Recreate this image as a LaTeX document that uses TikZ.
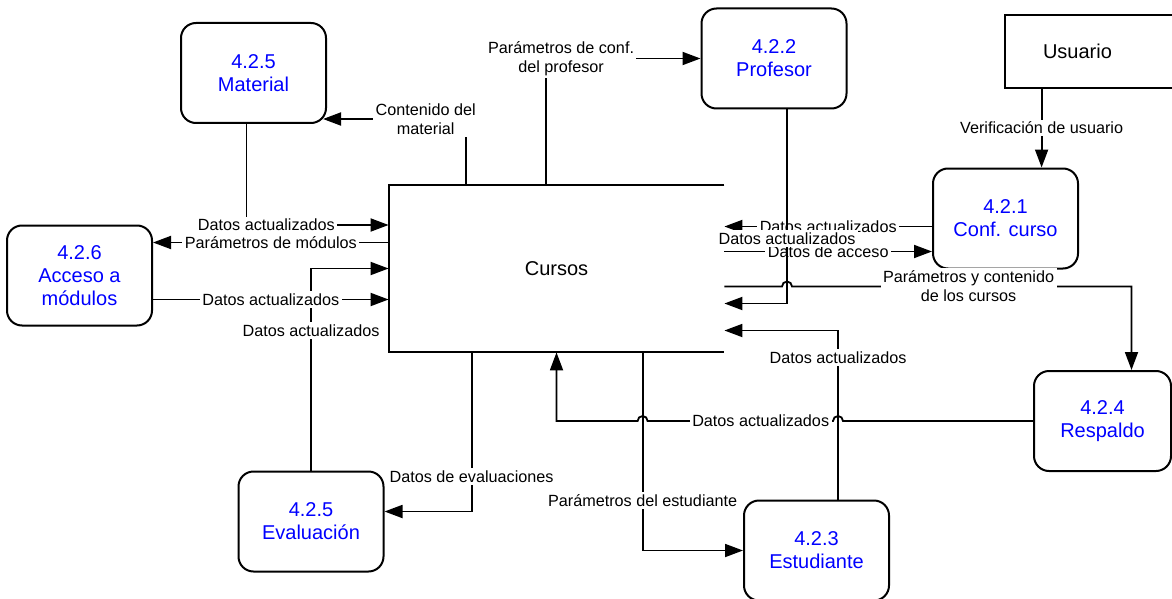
\documentclass[tikz,border=0pt]{standalone}
\usepackage{fontspec}
\setmainfont{Liberation Sans}
\usetikzlibrary{arrows.meta,calc,positioning}

\begin{document}
\begin{tikzpicture}[
  x=0.5pt, y=-0.5pt,
  every node/.style={font=\fontsize{8.1}{9.6}\selectfont},
  proc/.style={draw, line width=1pt, rounded corners=7.5pt, minimum width=72.5pt, minimum height=50pt, align=center, text=blue, font=\fontsize{10}{11.5}\selectfont},
  ent/.style={minimum width=72.5pt, minimum height=36.5pt, font=\fontsize{10}{11.5}\selectfont},
  lbl/.style={fill=white, inner sep=1.2pt, align=center},
  arr/.style={-{Triangle[length=9pt,width=6.5pt]}, line width=0.9pt},
  edge/.style={line width=1pt}
]
\path[use as bounding box] (0,0) coordinate (frameNW) rectangle (1172,599) coordinate (frameSE);

% data store and processes
\node[minimum width=167.5pt, minimum height=83.5pt, font=\fontsize{10}{11.5}\selectfont] (cursos) at (556.5,268.5) {Cursos};
\draw[edge] (cursos.north east) -- (cursos.north west) -- (cursos.south west) -- (cursos.south east);

\node[proc] (material) at (253.5,73) {4.2.5\\Material};
\node[proc] (profesor) at (774,58.5) {4.2.2\\Profesor};
\node[proc] (conf) at (1005.5,218.5) {4.2.1\\Conf. curso};
\node[proc] (acceso) at (79.5,275.5) {4.2.6\\Acceso a\\módulos};
\node[proc, minimum width=68.5pt] (respaldo) at (1102.5,421) {4.2.4\\Respaldo};
\node[proc] (evaluacion) at (311,521.5) {4.2.5\\Evaluación};
\node[proc] (estudiante) at (816.5,550.5) {4.2.3\\Estudiante};

\node[ent] (usuario) at (1077.5,51.5) {Usuario};
\draw[edge] (usuario.north west -| frameSE) -- (usuario.north west) -- (usuario.south west) -- (usuario.south west -| frameSE);

% ports on the Cursos box
\coordinate (c-w1) at ($(cursos.west)+(0,-43.5)$);
\coordinate (c-w2) at ($(cursos.west)+(0,-26)$);
\coordinate (c-w4) at ($(cursos.west)+(0,31)$);
\coordinate (c-n1) at ($(cursos.north west)+(77,0)$);
\coordinate (c-n2) at ($(cursos.north west)+(157,0)$);
\coordinate (c-e1) at ($(cursos.east)+(0,-42)$);
\coordinate (c-e2) at ($(cursos.east)+(0,-17)$);
\coordinate (c-e3) at ($(cursos.east)+(0,18)$);
\coordinate (c-e4) at ($(cursos.east)+(0,35)$);
\coordinate (c-e5) at ($(cursos.east)+(0,62)$);
\coordinate (c-s1) at ($(cursos.south west)+(83,0)$);
\coordinate (c-s2) at ($(cursos.south west)+(254,0)$);

\coordinate (m-in) at ($(material.south east)+(-4,-5)$);
\coordinate (p-out) at ($(profesor.south)+(13,0)$);
\coordinate (r-in) at ($(respaldo.north)+(29,0)$);
\coordinate (u-out) at ($(usuario.south west)+(37,0)$);
\coordinate (ev-in) at ($(evaluacion.east)+(0,-10)$);
\coordinate (st-out) at ($(estudiante.north)+(21.5,0)$);

% left side
\draw[arr] ($(material.south)+(-7,0)$) |- node[lbl, pos=0.57] {Datos actualizados} (c-w1);
\draw[arr] (c-w2) -- node[lbl] {Parámetros de módulos} (c-w2 -| acceso.east);
\draw[arr] (evaluacion.north) |- node[lbl, pos=0.346] {Datos actualizados} (cursos.west);
\draw[arr] (c-w4 -| acceso.east) -- node[lbl, pos=0.5] {Datos actualizados} (c-w4);

% top side
\draw[arr] (c-n1) |- node[lbl, pos=0.64] {Contenido del\\material} (m-in);
\draw[arr] (c-n2) |- node[lbl, pos=0.55] {Parámetros de conf.\\del profesor} (profesor.west);

% right side
\draw[arr] (u-out) -- node[lbl] {Verificación de usuario} (u-out |- conf.north);
\draw[arr] (c-e1 -| conf.west) -- node[lbl] {Datos actualizados} (c-e1);
\draw[arr] (c-e2) -- node[lbl] {Datos de acceso} (c-e2 -| conf.west);
\draw[arr] (p-out) |- node[lbl, pos=0.332] {Datos actualizados} (c-e4);
\draw[arr] (c-e3) -- ($(c-e3 -| p-out)+(-5,0)$) arc[start angle=180, end angle=360, radius=5]
  -- node[lbl, pos=0.52] {Parámetros y contenido\\de los cursos} (c-e3 -| r-in) -- (r-in);

% bottom side
\draw[arr] (c-s1) |- node[lbl, pos=0.39] {Datos de evaluaciones} (ev-in);
\draw[arr] (c-s2) |- node[lbl, pos=0.374] {Parámetros del estudiante} (estudiante.west);
\draw[arr] (st-out) |- node[lbl, pos=0.42] {Datos actualizados} (c-e5);
\draw[arr] (respaldo.west) -- ($(respaldo.west -| st-out)+(5,0)$) arc[start angle=0, end angle=-180, radius=5]
  -- node[lbl, pos=0.39] {Datos actualizados} ($(respaldo.west -| c-s2)+(5,0)$) arc[start angle=0, end angle=-180, radius=5]
  -- (respaldo.west -| cursos.south) -- (cursos.south);
\end{tikzpicture}
\end{document}
